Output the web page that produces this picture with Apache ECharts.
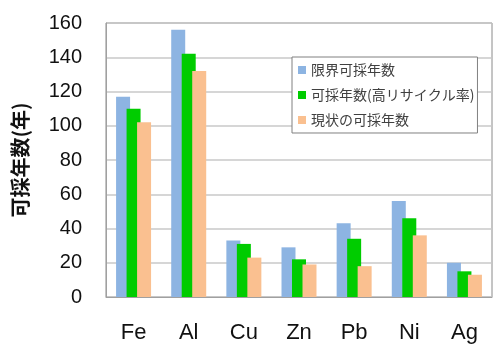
<!DOCTYPE html>
<html>
<head>
<meta charset="utf-8">
<script src="https://cdn.jsdelivr.net/npm/echarts@6/dist/echarts.min.js"></script>
<style>
  html, body { margin: 0; padding: 0; background: #fff; }
  #chart { width: 493px; height: 345px; }
</style>
</head>
<body>
<div id="chart"></div>
<script>
// Metals and their reserve lifetimes (years)
const metals = ['Fe', 'Al', 'Cu', 'Zn', 'Pb', 'Ni', 'Ag'];
const seriesNames = ['限界可採年数', '可採年数(高リサイクル率)', '現状の可採年数'];
const limitYears = [117, 156, 33, 29, 43, 56, 20];
const highRecycleYears = [110, 142, 31, 22, 34, 46, 15];
const currentYears = [102, 132, 23, 19, 18, 36, 13];
const yTicks = [0, 20, 40, 60, 80, 100, 120, 140, 160];

const colors = ['#8db4e2', '#00cc00', '#fac090'];
const fontLatin = 'Liberation Sans, Arial, sans-serif';
const fontCJK = '"Noto Sans CJK JP", sans-serif';

const chart = echarts.init(document.getElementById('chart'));

const values = [limitYears, highRecycleYears, currentYears];

chart.setOption({
  animation: false,
  grid: {
    left: 106, right: 1, top: 23, bottom: 48,
    show: true, borderColor: '#8a8a8a', borderWidth: 1
  },
  legend: {
    orient: 'vertical',
    left: 292, top: 57,
    itemWidth: 8, itemHeight: 8,
    itemGap: 11,
    padding: [6, 3, 6, 6],
    backgroundColor: '#fff',
    borderColor: '#808080', borderWidth: 1,
    icon: 'rect',
    textStyle: { fontFamily: fontCJK, fontSize: 14, color: '#404040' },
    data: seriesNames
  },
  xAxis: {
    type: 'category',
    data: metals,
    axisLine: { lineStyle: { color: '#a0a0a0' } },
    axisTick: { show: false },
    axisLabel: { fontFamily: fontLatin, fontSize: 22, color: '#111', margin: 25 }
  },
  yAxis: {
    type: 'value',
    min: yTicks[0], max: yTicks[yTicks.length - 1], interval: 20,
    name: '可採年数(年)',
    nameLocation: 'middle',
    nameGap: 76,
    nameRotate: 90,
    nameTextStyle: { fontFamily: fontCJK, fontSize: 20, fontWeight: 'bold', color: '#111' },
    axisLine: { show: true, lineStyle: { color: '#a0a0a0' } },
    axisTick: { show: false },
    axisLabel: { fontFamily: fontLatin, fontSize: 20, color: '#111', margin: 24 },
    splitLine: { lineStyle: { color: '#c8c8c8', width: 1.5 } }
  },
  series: seriesNames.map((name, i) => ({
    name: name,
    type: 'bar',
    data: values[i],
    barWidth: 14,
    barGap: '-25%',
    itemStyle: { color: colors[i] }
  }))
});
</script>
</body>
</html>
